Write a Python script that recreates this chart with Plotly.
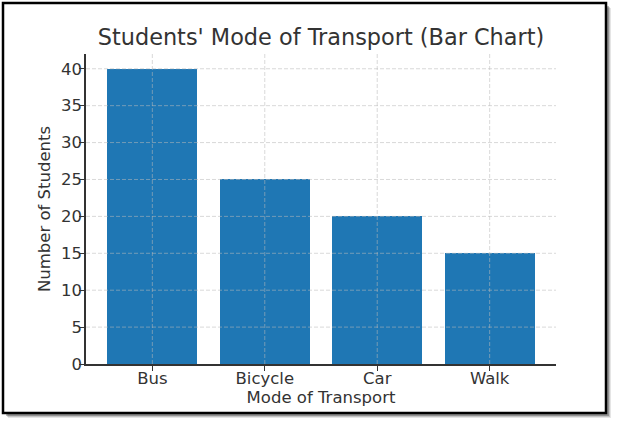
import plotly.graph_objects as go

# data
modes = ["Bus", "Bicycle", "Car", "Walk"]
students = [40, 25, 20, 15]
y_ticks = [0, 5, 10, 15, 20, 25, 30, 35, 40]

W, H = 618, 427
L, R, T, B = 86, 62, 54, 63
pw, ph = W - L - R, H - T - B


def px_x(p):
    return (p - L) / pw


def px_y(p):
    return (H - B - p) / ph


fig = go.Figure()
fig.add_trace(go.Bar(
    x=list(range(len(modes))),
    y=students,
    width=0.8,
    marker=dict(color="#1f77b4", line=dict(width=0)),
))

grid = dict(color="rgba(185,185,185,0.55)", width=1, dash="4px,2px")
shapes = []
# frame shadow + border
for off, col in [(5, "rgba(0,0,0,0.10)"), (4, "rgba(0,0,0,0.15)"), (3, "rgba(0,0,0,0.25)")]:
    shapes.append(dict(type="rect", xref="paper", yref="paper", layer="below",
                       x0=px_x(3 + off), x1=px_x(606 + off), y0=px_y(3 + off), y1=px_y(413 + off),
                       line=dict(width=0), fillcolor=col))
shapes.append(dict(type="rect", xref="paper", yref="paper", layer="below",
                   x0=px_x(3), x1=px_x(606), y0=px_y(3), y1=px_y(413),
                   line=dict(color="black", width=2.5), fillcolor="white"))
# grid drawn over the bars, like the original
for v in y_ticks[1:]:
    shapes.append(dict(type="line", xref="x domain", yref="y", x0=0, x1=1, y0=v, y1=v,
                       line=grid, layer="above"))
for i in range(len(modes)):
    shapes.append(dict(type="line", xref="x", yref="y domain", x0=i, x1=i, y0=0, y1=1,
                       line=grid, layer="above"))

fig.update_layout(
    width=W, height=H,
    margin=dict(l=L, r=R, t=T, b=B),
    paper_bgcolor="white",
    plot_bgcolor="rgba(0,0,0,0)",
    font=dict(family="DejaVu Sans", size=16.5, color="#333333"),
    title=dict(text="Students' Mode of Transport (Bar Chart)", x=0.5, xref="paper",
               xanchor="center", y=(H - 37) / H, yanchor="middle",
               font=dict(size=22.4, color="#333333")),
    showlegend=False,
    shapes=shapes,
    bargap=0,
)
fig.update_xaxes(
    range=[-0.59, 3.59],
    tickvals=list(range(len(modes))), ticktext=modes,
    showgrid=False, zeroline=False,
    showline=True, linecolor="#333333", linewidth=1.5,
    ticks="outside", ticklen=5, tickcolor="#333333",
    ticklabelstandoff=-7,
    title=dict(text="Mode of Transport", standoff=4, font=dict(size=16.5)),
)
fig.update_yaxes(
    range=[0, 42],
    tickvals=y_ticks,
    showgrid=False, zeroline=False,
    showline=True, linecolor="#333333", linewidth=1.5,
    ticks="outside", ticklen=5, tickcolor="#333333",
    ticklabelstandoff=-6,
    title=dict(text="Number of Students", standoff=6, font=dict(size=16.5)),
)

fig.write_html("out.html", config={"displayModeBar": False},
               post_script="document.body.style.margin='0';")
